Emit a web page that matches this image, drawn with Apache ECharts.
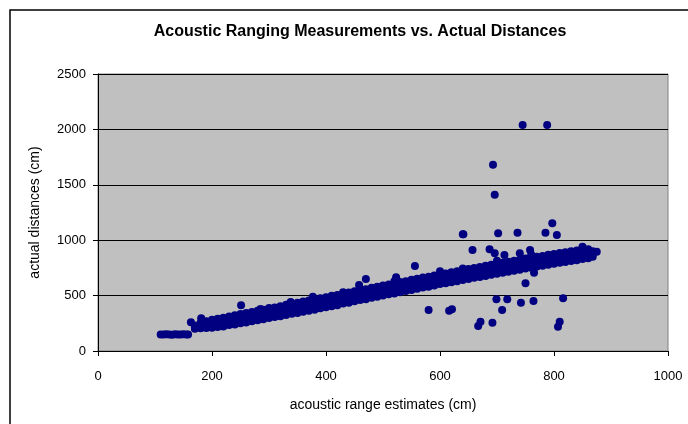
<!DOCTYPE html>
<html>
<head>
<meta charset="utf-8">
<script src="https://cdn.jsdelivr.net/npm/echarts@6/dist/echarts.min.js"></script>
<style>
    html, body { margin: 0; padding: 0; background: #fff; }
    #chart { width: 688px; height: 424px; }
</style>
</head>
<body>
<div id="chart"></div>
<script>
    // 主带状数据 (acoustic estimate -> actual distance)
    var bandEstimates = [
        110, 115, 120, 125, 130, 135, 140, 145, 150, 155, 158,
        170, 170, 170, 180, 180, 180, 180, 190, 190, 190, 190, 200, 200, 200, 200,
        210, 210, 210, 210, 220, 220, 220, 220, 230, 230, 230, 230, 240, 240, 240, 240,
        250, 250, 250, 250, 260, 260, 260, 260, 270, 270, 270, 270, 280, 280, 280, 280,
        290, 290, 290, 290, 300, 300, 300, 300, 310, 310, 310, 310, 320, 320, 320, 320,
        330, 330, 330, 330, 340, 340, 340, 340, 350, 350, 350, 350, 360, 360, 360, 360,
        370, 370, 370, 370, 380, 380, 380, 380, 390, 390, 390, 390, 400, 400, 400, 400,
        410, 410, 410, 410, 420, 420, 420, 420, 430, 430, 430, 430, 440, 440, 440, 440,
        450, 450, 450, 450, 460, 460, 460, 460, 470, 470, 470, 470, 480, 480, 480, 480,
        490, 490, 490, 490, 500, 500, 500, 500, 510, 510, 510, 510, 520, 520, 520, 520,
        530, 530, 530, 530, 540, 540, 540, 540, 550, 550, 550, 550, 560, 560, 560, 560,
        570, 570, 570, 570, 580, 580, 580, 580, 590, 590, 590, 590, 600, 600, 600, 600,
        610, 610, 610, 610, 620, 620, 620, 620, 630, 630, 630, 630, 640, 640, 640, 640,
        650, 650, 650, 650, 660, 660, 660, 660, 670, 670, 670, 670, 680, 680, 680, 680,
        690, 690, 690, 690, 700, 700, 700, 700, 710, 710, 710, 710, 720, 720, 720, 720,
        730, 730, 730, 730, 740, 740, 740, 740, 750, 750, 750, 750, 760, 760, 760, 760,
        770, 770, 770, 770, 780, 780, 780, 780, 790, 790, 790, 790, 800, 800, 800, 800,
        810, 810, 810, 810, 820, 820, 820, 820, 830, 830, 830, 830, 840, 840, 840, 840,
        850, 850, 850, 850, 860, 860, 860, 860, 868, 868, 868, 875,
        377, 430, 520, 600, 640, 700, 760, 850, 285, 335
    ];
    var bandActuals = [
        150, 148, 152, 150, 147, 151, 150, 149, 152, 150, 148,
        200, 212, 230, 205, 222, 240, 255, 208, 228, 250, 268, 210, 236, 258, 282,
        216, 244, 266, 290, 222, 252, 276, 300, 234, 262, 288, 312, 240, 270, 296, 322,
        250, 280, 304, 334, 258, 290, 316, 342, 268, 300, 324, 352, 278, 306, 334, 364,
        286, 318, 346, 372, 298, 328, 356, 388, 306, 338, 364, 392, 314, 346, 376, 404,
        326, 356, 384, 418, 336, 366, 394, 424, 344, 376, 406, 436, 354, 384, 414, 446,
        364, 396, 424, 456, 372, 404, 434, 466, 386, 416, 446, 476, 394, 426, 454, 486,
        404, 436, 468, 498, 414, 446, 474, 506, 428, 458, 486, 516, 436, 468, 496, 528,
        448, 480, 508, 540, 460, 490, 520, 552, 468, 500, 530, 558, 480, 510, 540, 570,
        490, 520, 552, 580, 502, 532, 562, 592, 512, 542, 570, 600, 520, 552, 582, 612,
        530, 560, 590, 622, 542, 572, 600, 630, 550, 582, 612, 642, 562, 592, 620, 652,
        572, 602, 632, 664, 580, 612, 640, 670, 592, 622, 652, 682, 604, 634, 662, 694,
        612, 642, 670, 700, 620, 650, 680, 710, 630, 660, 690, 720, 640, 670, 700, 730,
        650, 680, 708, 740, 660, 690, 720, 750, 668, 698, 728, 758, 678, 710, 738, 770,
        688, 718, 748, 778, 698, 728, 758, 788, 706, 736, 766, 796, 716, 746, 776, 806,
        724, 754, 784, 814, 734, 764, 794, 824, 744, 774, 804, 834, 752, 782, 812, 842,
        762, 792, 820, 850, 770, 800, 828, 858, 778, 808, 838, 868, 788, 818, 846, 876,
        796, 826, 854, 884, 804, 834, 862, 892, 812, 842, 870, 900, 820, 850, 878, 906,
        830, 858, 886, 930, 838, 866, 894, 918, 850, 876, 900, 895,
        490, 530, 630, 720, 745, 815, 870, 940, 380, 422
    ];
    // 离群点
    var outlierEstimates = [
        163, 181, 251, 338, 458, 470, 523, 556, 580, 616, 621,
        640, 657, 687, 696, 713, 740, 758, 750, 765,
        667, 671, 692, 699, 709, 718, 742, 764, 807, 810, 816,
        702, 736, 785, 797, 805, 641,
        693, 696, 745, 788
    ];
    var outlierActuals = [
        259, 295, 412, 442, 595, 650, 665, 767, 370, 364, 376,
        1053, 912, 918, 882, 866, 882, 912, 611, 706,
        226, 264, 255, 467, 370, 467, 436, 451, 219, 264, 476,
        1062, 1068, 1068, 1152, 1047, 1053,
        1680, 1410, 2040, 2040
    ];
    var xTicks = [0, 200, 400, 600, 800, 1000];
    var yTicks = [0, 500, 1000, 1500, 2000, 2500];

    function zip(xs, ys) {
        var out = [];
        for (var i = 0; i < xs.length; i++) out.push([xs[i], ys[i]]);
        return out;
    }
    var points = zip(bandEstimates, bandActuals).concat(zip(outlierEstimates, outlierActuals));

    var font = 'Liberation Sans, Arial, sans-serif';
    var chart = echarts.init(document.getElementById('chart'));
    chart.setOption({
        animation: false,
        backgroundColor: '#fff',
        title: {
            text: 'Acoustic Ranging Measurements vs. Actual Distances',
            left: 355,
            textAlign: 'center',
            top: 19,
            textStyle: { fontFamily: font, fontSize: 16, fontWeight: 'bold', color: '#000' }
        },
        graphic: [{
            type: 'rect',
            shape: { x: 10, y: 10, width: 700, height: 430 },
            style: { fill: 'none', stroke: '#000', lineWidth: 1.5 },
            silent: true
        }],
        grid: {
            left: 98, top: 74, width: 570, height: 277,
            show: true, backgroundColor: '#c0c0c0', borderColor: '#808080', borderWidth: 1
        },
        xAxis: {
            type: 'value', min: xTicks[0], max: xTicks[xTicks.length - 1], interval: 200,
            name: 'acoustic range estimates (cm)', nameLocation: 'middle', nameGap: 47,
            nameTextStyle: { fontFamily: font, fontSize: 14, color: '#000' },
            axisLine: { show: true, lineStyle: { color: '#000', width: 1 } },
            axisTick: { show: true, length: 5, lineStyle: { color: '#000' } },
            axisLabel: {
                fontFamily: font, fontSize: 13, color: '#000', margin: 19,
                formatter: function (v) { return String(v); }
            },
            splitLine: { show: false }
        },
        yAxis: {
            type: 'value', min: yTicks[0], max: yTicks[yTicks.length - 1], interval: 500,
            name: 'actual distances (cm)', nameLocation: 'middle', nameGap: 56,
            nameTextStyle: { fontFamily: font, fontSize: 14, color: '#000' },
            axisLine: { show: true, lineStyle: { color: '#000', width: 1 } },
            axisTick: { show: true, length: 5, lineStyle: { color: '#000' } },
            axisLabel: {
                fontFamily: font, fontSize: 13, color: '#000', margin: 12,
                formatter: function (v) { return String(v); }
            },
            splitLine: { show: true, lineStyle: { color: '#000', width: 1 } }
        },
        series: [{
            type: 'scatter',
            data: points,
            symbol: 'circle',
            symbolSize: 8,
            itemStyle: { color: '#000080', opacity: 1 }
        }]
    });
</script>
</body>
</html>
